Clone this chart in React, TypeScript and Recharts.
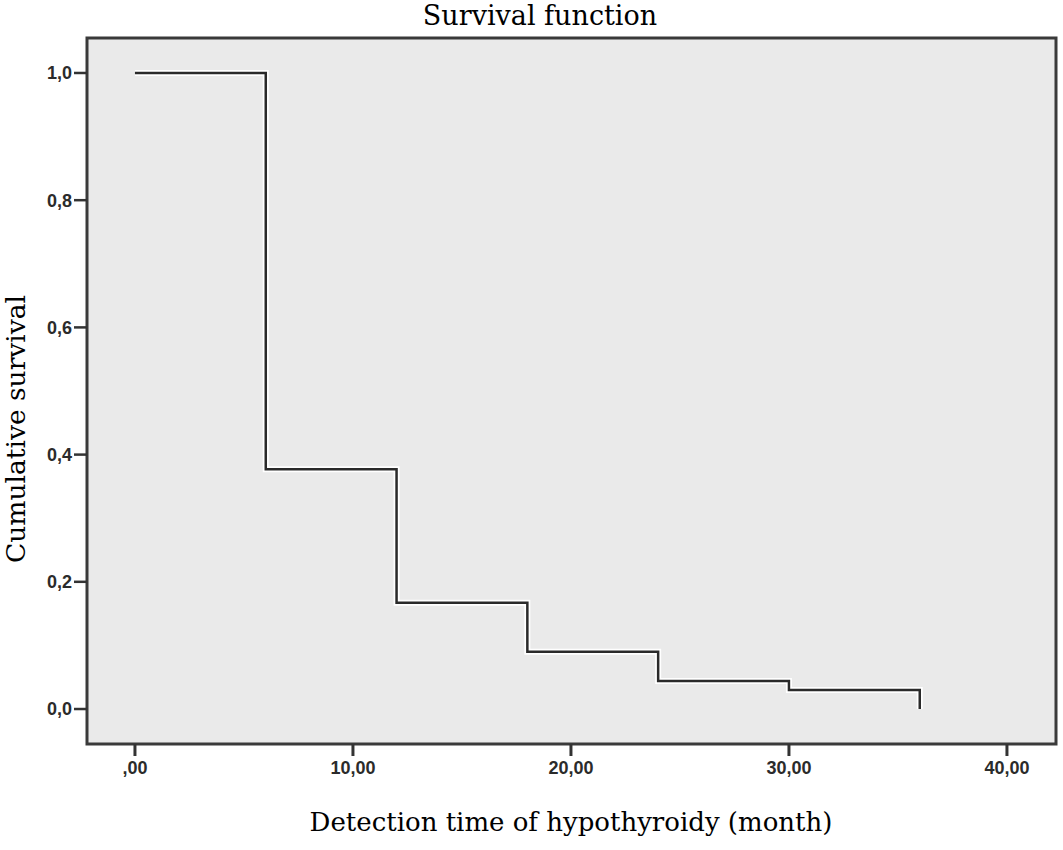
import React from "react";
import { LineChart, Line, XAxis, YAxis, ReferenceArea } from "recharts";

// Kaplan-Meier steps
const months = [0, 6, 12, 18, 24, 30, 36];
const survival = [1.0, 0.377, 0.167, 0.09, 0.044, 0.03, 0.0];
const xTicks = [0, 10, 20, 30, 40];
const yTicks = [0, 0.2, 0.4, 0.6, 0.8, 1.0];

const X_DOMAIN: [number, number] = [-2.2, 42.25];
const Y_DOMAIN: [number, number] = [-0.055, 1.055];

const data = months.map((m, i) => ({ month: m, survival: survival[i] }));

const fmtX = (v: number) => (v === 0 ? ",00" : `${v},00`);
const fmtY = (v: number) => v.toFixed(1).replace(".", ",");

const serif = "'DejaVu Serif', Georgia, serif";
const tickStyle = { fontSize: 18, fill: "#2b2b2b", fontFamily: "'Liberation Sans', Arial, sans-serif", fontWeight: 700 };

const App: React.FC = () => {
  return (
    <div style={{ position: "absolute", left: 0, top: 0, width: 1063, height: 850, background: "#fff" }}>
      <div style={{ position: "absolute", left: 0, width: 1080, top: 0, textAlign: "center", fontFamily: serif, fontSize: 27, lineHeight: "32px", color: "#000" }}>
        Survival function
      </div>
      <div
        style={{
          position: "absolute",
          left: 15,
          top: 429,
          transform: "translate(-50%, -50%) rotate(-90deg)",
          whiteSpace: "nowrap",
          fontFamily: serif,
          fontSize: 26.5,
          color: "#000",
        }}
      >
        Cumulative survival
      </div>
      <div style={{ position: "absolute", left: 0, width: 1142, top: 804, textAlign: "center", fontFamily: serif, fontSize: 26, lineHeight: "36px", color: "#000" }}>
        Detection time of hypothyroidy (month)
      </div>
      <LineChart width={1063} height={850} data={data} margin={{ top: 38, right: 7, bottom: 46, left: 0 }}>
        <XAxis
          type="number"
          dataKey="month"
          domain={X_DOMAIN}
          ticks={xTicks}
          tickFormatter={fmtX}
          axisLine={false}
          tickSize={12}
          tickMargin={5}
          tickLine={{ stroke: "#333", strokeWidth: 3 }}
          tick={tickStyle}
          height={60}
          allowDataOverflow
        />
        <YAxis
          type="number"
          domain={Y_DOMAIN}
          ticks={yTicks}
          tickFormatter={fmtY}
          axisLine={false}
          tickSize={13}
          tickMargin={2}
          tickLine={{ stroke: "#333", strokeWidth: 2.5 }}
          tick={tickStyle}
          width={87}
          allowDataOverflow
        />
        <ReferenceArea
          x1={X_DOMAIN[0]}
          x2={X_DOMAIN[1]}
          y1={Y_DOMAIN[0]}
          y2={Y_DOMAIN[1]}
          fill="#eaeaea"
          fillOpacity={1}
          stroke="#3a3a3a"
          strokeWidth={3}
        />
        <Line type="stepAfter" dataKey="survival" stroke="#ffffff" strokeWidth={6} dot={false} isAnimationActive={false} />
        <Line type="stepAfter" dataKey="survival" stroke="#2a2a2a" strokeWidth={2.5} dot={false} isAnimationActive={false} />
      </LineChart>
    </div>
  );
};

export default App;
